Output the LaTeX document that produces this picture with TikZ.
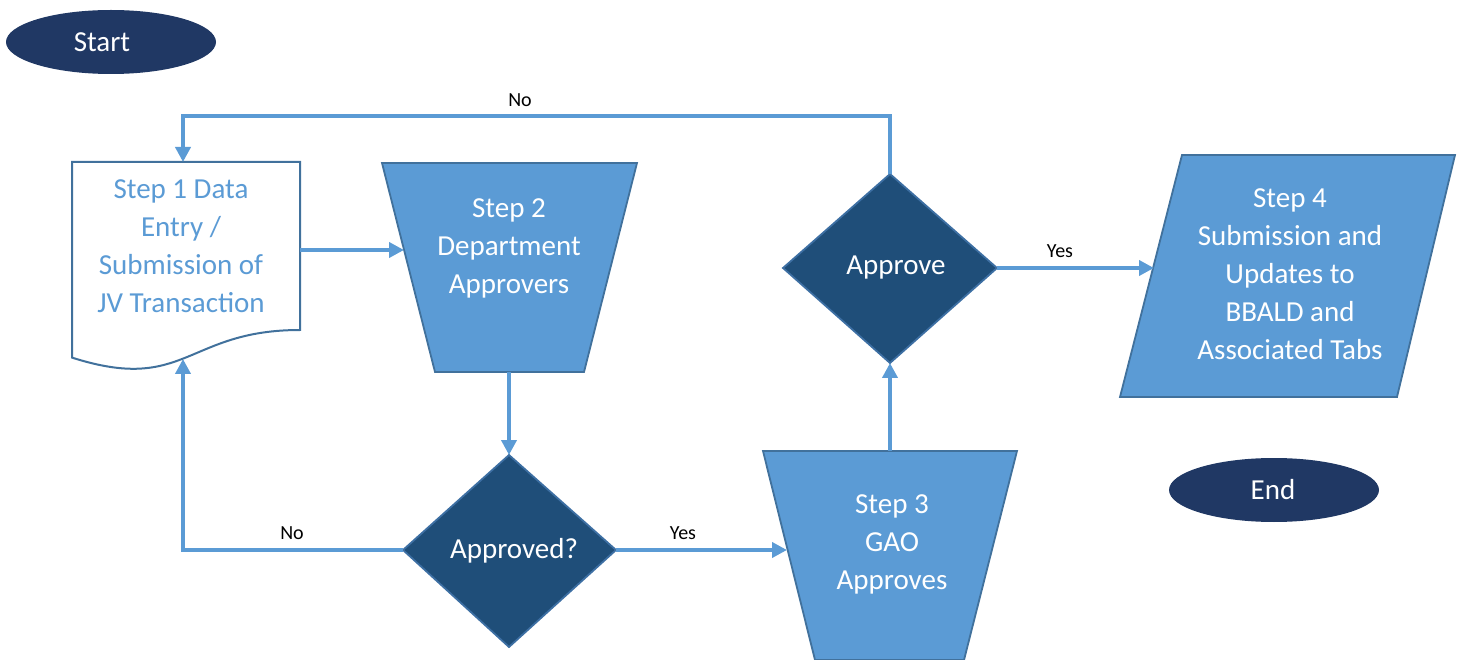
\documentclass[tikz,border=0pt]{standalone}
\usepackage{fontspec}
\setmainfont{Carlito}
\usetikzlibrary{arrows.meta}
\definecolor{arrowblue}{HTML}{5B9BD5}
\definecolor{boxfill}{HTML}{5B9BD5}
\definecolor{boxedge}{HTML}{41719C}
\definecolor{decfill}{HTML}{1F4E79}
\definecolor{decedge}{HTML}{3D6FA3}
\definecolor{termfill}{HTML}{203864}
\tikzset{
  conn/.style={draw=arrowblue, line width=4pt, -{Triangle[length=15pt,width=15pt]}},
  boxshape/.style={fill=boxfill, draw=boxedge, line width=1.8pt, line join=miter},
  decshape/.style={fill=decfill, draw=decedge, line width=1.8pt},
  docshape/.style={fill=white, draw=boxedge, line width=2pt},
  bigtext/.style={font=\fontsize{29}{38}\selectfont, align=center, inner sep=0pt},
  lbl/.style={font=\fontsize{20}{24}\selectfont, text=black, inner sep=0pt},
}
\begin{document}
\begin{tikzpicture}[x=1pt, y=-1pt]
\useasboundingbox (0,0) rectangle (1460,660);
% Start / End
\fill[termfill] (111,42) ellipse [x radius=105, y radius=32];
\node[bigtext, text=white] (start) at (102,42) {Start};
\fill[termfill] (1274,490) ellipse [x radius=105, y radius=32];
\node[bigtext, text=white] (end) at (1273,490) {End};
% Step 1 document
\draw[docshape] (72,162) -- (300,162) -- (300,330) .. controls (186,330) and (186,394) .. (72,357.6) -- cycle;
\node[bigtext, text=boxfill] (s1) at (181,246) {Step 1 Data\\Entry /\\Submission of\\JV Transaction};
\coordinate (s1top) at (183,162);
\coordinate (s1bot) at (183,359);
\coordinate (s1right) at (300,250);
% Step 2 trapezoid
\draw[boxshape] (382,163) -- (637,163) -- (584,372) -- (435,372) -- cycle;
\node[bigtext, text=white] (s2) at (509,248.5) {Step 2\\Department\\Approvers};
\coordinate (s2left) at (404,250);
\coordinate (s2bot) at (509,372);
% Approved? diamond
\draw[decshape] (509,455) -- (616,550) -- (509,647) -- (403,550) -- cycle;
\node[bigtext, text=white] (d1) at (514,551) {Approved?};
\coordinate (d1top) at (509,455);
\coordinate (d1left) at (403,550);
\coordinate (d1right) at (616,550);
% Step 3 trapezoid
\draw[boxshape] (763,451) -- (1017,451) -- (964,660) -- (815,660) -- cycle;
\node[bigtext, text=white] (s3) at (892,544) {Step 3\\GAO\\Approves};
\coordinate (s3left) at (787,550);
\coordinate (s3top) at (890,451);
% Approve diamond
\draw[decshape] (890,174) -- (997,268) -- (890,363) -- (783,268) -- cycle;
\node[bigtext, text=white] (d2) at (896,268) {Approve};
\coordinate (d2top) at (890,174);
\coordinate (d2bot) at (890,363);
\coordinate (d2right) at (997,268);
% Step 4 parallelogram
\draw[boxshape] (1182,155) -- (1455,155) -- (1397,397) -- (1120,397) -- cycle;
\node[bigtext, text=white] (s4) at (1290,274.5) {Step 4\\Submission and\\Updates to\\BBALD and\\Associated Tabs};
\coordinate (s4left) at (1154,268);
% connectors
\draw[conn] (s1right) -- (s2left);
\draw[conn] (s2bot) -- (d1top);
\draw[conn] (d1left) -| (s1bot);
\draw[conn] (d1right) -- (s3left);
\draw[conn] (s3top) -- (d2bot);
\draw[conn] (d2top) |- (540,116) -| (s1top);
\draw[conn] (d2right) -- (s4left);
% labels
\node[lbl] (lno1) at (292,533) {No};
\node[lbl] (lyes1) at (683,533) {Yes};
\node[lbl] (lno2) at (520,100) {No};
\node[lbl] (lyes2) at (1060,251) {Yes};
\end{tikzpicture}
\end{document}
